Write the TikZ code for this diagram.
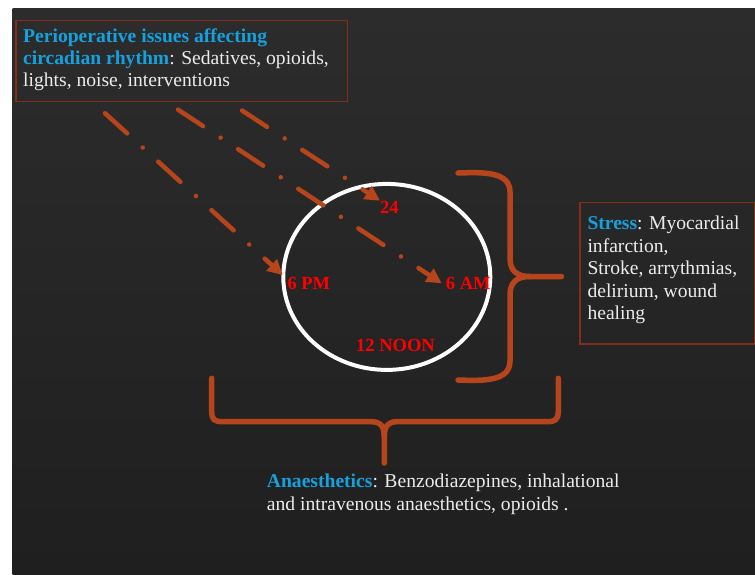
\documentclass[tikz,border=0pt]{standalone}
\usepackage{fontspec}
\setmainfont{Liberation Serif}
\usetikzlibrary{arrows.meta,shapes.geometric}
\definecolor{bgtop}{RGB}{44,44,44}
\definecolor{bgbot}{RGB}{31,31,31}
\definecolor{rust}{RGB}{183,69,28}
\definecolor{boxline}{RGB}{130,46,24}
\definecolor{hblue}{RGB}{22,160,222}
\definecolor{txt}{RGB}{236,236,236}
\definecolor{lab}{RGB}{255,0,0}
\begin{document}
\begin{tikzpicture}[x=1pt,y=-1pt,
 infobox/.style={draw=boxline, line width=1.2pt, inner sep=0pt, anchor=north west},
 bodyline/.style={text=txt, font=\fontsize{19.6}{22}\selectfont, inner sep=0pt, anchor=base west},
 hourlabel/.style={text=lab, font=\bfseries\fontsize{18.5}{20}\selectfont, inner sep=0pt, anchor=base west},
 flow/.style={draw=rust, line width=4.5pt, line cap=round, dash pattern=on 30pt off 21pt on 0pt off 21pt, -{Triangle[length=15pt,width=15pt]}},
 bracket/.style={draw=rust, line width=5.5pt, line cap=round, line join=round}]
\useasboundingbox (0,0) rectangle (755,574);
\fill[white] (0,0) rectangle (755,574);
\shade[top color=bgtop, bottom color=bgbot] (12.5,8.5) rectangle (755,574);

% top box
\node (perioBox) [infobox, minimum width=331.5pt, minimum height=81pt] at (15.3,20) {};
\node (perio1) [bodyline] at (23,42.7) {\textcolor{hblue}{\bfseries Perioperative issues affecting}};
\node (perio2) [bodyline] at (23,64.4) {\textcolor{hblue}{\bfseries circadian rhythm}: Sedatives, opioids,};
\node (perio3) [bodyline] at (23,86.1) {lights, noise, interventions};

% right box
\node (stressBox) [infobox, minimum width=174.5pt, minimum height=141.6pt] at (579.3,201.7) {};
\node (stress1) [bodyline] at (587.3,229.5) {\textcolor{hblue}{\bfseries Stress}: Myocardial};
\node (stress2) [bodyline] at (587.3,252) {infarction,};
\node (stress3) [bodyline] at (587.3,274.5) {Stroke, arrythmias,};
\node (stress4) [bodyline] at (587.3,297) {delirium, wound};
\node (stress5) [bodyline] at (587.3,319.5) {healing};

% bottom text
\node (anaes1) [bodyline] at (266.7,487.7) {\textcolor{hblue}{\bfseries Anaesthetics}: Benzodiazepines, inhalational};
\node (anaes2) [bodyline] at (266.7,510) {and intravenous anaesthetics, opioids .};

% clock
\node (clock) [draw=white, line width=4pt, ellipse, inner sep=0pt, minimum width=207pt, minimum height=186pt] at (386.8,276.9) {};
\node (h24) [hourlabel] at (380,213.3) {24};
\node (h18) [hourlabel] at (287.3,289.3) {6 PM};
\node (h06) [hourlabel] at (445.7,289.3) {6 AM};
\node (h12) [hourlabel] at (356,351.7) {12 NOON};

% arrows
\coordinate (s1) at (105,113.2);
\coordinate (t1) at (282.7,275);
\coordinate (s2) at (178,109.6);
\coordinate (t2) at (441.7,283.3);
\coordinate (s3) at (242,110.5);
\coordinate (t3) at (380,200.7);
\draw[flow] (s1) -- (t1);
\draw[flow] (s2) -- (t2);
\draw[flow] (s3) -- (t3);

% right brace
\draw[bracket] (458,173) .. controls (485,172) and (510,172) .. (510,192)
  -- (510,258) .. controls (510,271) and (517,276.5) .. (530,276.5) -- (561.5,276.5);
\draw[bracket] (530,276.5) .. controls (517,276.5) and (510,282) .. (510,295)
  -- (510,361) .. controls (510,381) and (485,381) .. (458,380);

% bottom brace
\draw[bracket] (211.7,378.3) -- (211.7,411) .. controls (211.7,419.5) and (214,421.7) .. (223,421.7)
  -- (371,421.7) .. controls (380.5,421.7) and (384.3,426) .. (384.3,437) -- (384.3,463);
\draw[bracket] (384.3,437) .. controls (384.3,426) and (388,421.7) .. (397,421.7)
  -- (547,421.7) .. controls (555.5,421.7) and (558.3,419.5) .. (558.3,411) -- (558.3,378.3);
\end{tikzpicture}
\end{document}
